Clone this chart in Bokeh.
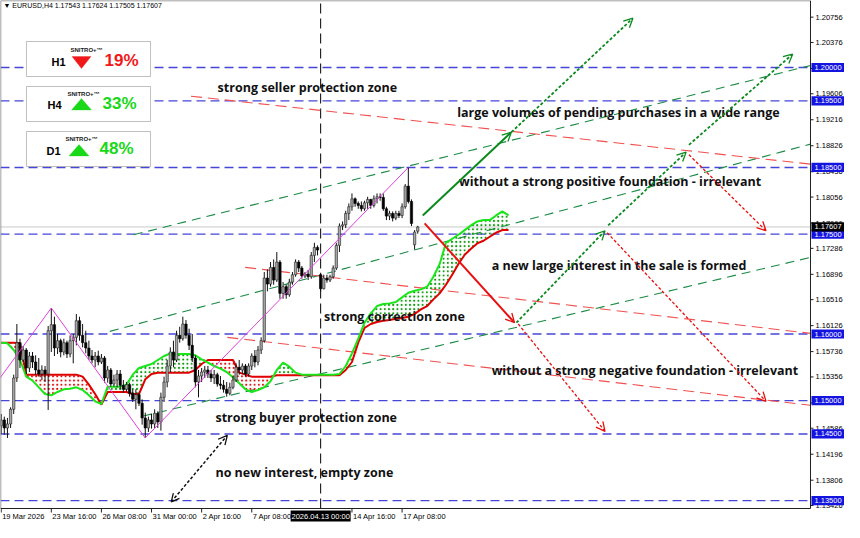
import numpy as np
from bokeh.plotting import figure
from bokeh.models import (Range1d, Label, BoxAnnotation, PolyAnnotation, Arrow, OpenHead)
from bokeh.core.properties import value
from bokeh.embed import file_html
from bokeh.resources import INLINE

# ---------------- data (EURUSD H4, bar index 0 = 19 Mar 2026 00:00) ----------------
header_text = "\u25BC EURUSD,H4  1.17543 1.17624 1.17505 1.17607"

bar_open = [1.1462, 1.1471, 1.1459, 1.1465, 1.1487, 1.1534, 1.1587, 1.1561, 1.1576, 1.1549,
            1.1567, 1.1558, 1.1546, 1.1540, 1.1546, 1.1540, 1.1605, 1.1614, 1.1579, 1.1590,
            1.1573, 1.1587, 1.1570, 1.1590, 1.1595, 1.1620, 1.1598, 1.1587, 1.1579, 1.1567,
            1.1561, 1.1567, 1.1558, 1.1564, 1.1534, 1.1546, 1.1525, 1.1531, 1.1540, 1.1523,
            1.1517, 1.1524, 1.1511, 1.1502, 1.1509, 1.1496, 1.1474, 1.1459, 1.1471, 1.1465,
            1.1481, 1.1468, 1.1505, 1.1528, 1.1552, 1.1573, 1.1561, 1.1598, 1.1593, 1.1615,
            1.1598, 1.1583, 1.1564, 1.1528, 1.1537, 1.1543, 1.1546, 1.1540, 1.1534, 1.1539,
            1.1525, 1.1523, 1.1517, 1.1511, 1.1520, 1.1531, 1.1550, 1.1546, 1.1552, 1.1540,
            1.1552, 1.1567, 1.1558, 1.1576, 1.1590, 1.1684, 1.1675, 1.1700, 1.1681, 1.1708,
            1.1661, 1.1671, 1.1659, 1.1678, 1.1689, 1.1708, 1.1699, 1.1687, 1.1690, 1.1686,
            1.1718, 1.1730, 1.1689, 1.1668, 1.1684, 1.1681, 1.1686, 1.1699, 1.1733, 1.1762,
            1.1764, 1.1781, 1.1791, 1.1803, 1.1796, 1.1793, 1.1788, 1.1797, 1.1802, 1.1793,
            1.1803, 1.1806, 1.1805, 1.1788, 1.1777, 1.1781, 1.1774, 1.1781, 1.1778, 1.1791,
            1.1822, 1.1799, 1.1734, 1.17543]
bar_high = [1.1480, 1.1476, 1.1474, 1.1490, 1.1539, 1.1615, 1.1593, 1.1582, 1.1579, 1.1573,
            1.1573, 1.1568, 1.1564, 1.1553, 1.1552, 1.1612, 1.1639, 1.1626, 1.1600, 1.1593,
            1.1593, 1.1590, 1.1598, 1.1600, 1.1630, 1.1626, 1.1615, 1.1605, 1.1590, 1.1576,
            1.1573, 1.1575, 1.1570, 1.1567, 1.1552, 1.1549, 1.1539, 1.1546, 1.1546, 1.1531,
            1.1528, 1.1527, 1.1517, 1.1517, 1.1512, 1.1502, 1.1482, 1.1476, 1.1480, 1.1487,
            1.1484, 1.1512, 1.1536, 1.1561, 1.1580, 1.1590, 1.1605, 1.1611, 1.1626, 1.1621,
            1.1608, 1.1600, 1.1568, 1.1546, 1.1549, 1.1552, 1.1552, 1.1546, 1.1546, 1.1542,
            1.1537, 1.1531, 1.1528, 1.1527, 1.1537, 1.1556, 1.1561, 1.1556, 1.1555, 1.1556,
            1.1571, 1.1576, 1.1582, 1.1595, 1.1693, 1.1697, 1.1708, 1.1712, 1.1723, 1.1711,
            1.1678, 1.1674, 1.1683, 1.1693, 1.1712, 1.1711, 1.1702, 1.1693, 1.1696, 1.1723,
            1.1737, 1.1733, 1.1692, 1.1689, 1.1689, 1.1689, 1.1703, 1.1737, 1.1766, 1.1769,
            1.1785, 1.1796, 1.1811, 1.1805, 1.1799, 1.1799, 1.1800, 1.1806, 1.1803, 1.1808,
            1.1811, 1.1811, 1.1811, 1.1791, 1.1785, 1.1784, 1.1785, 1.1785, 1.1796, 1.1825,
            1.1850, 1.1802, 1.1756, 1.17624]
bar_low = [1.1450, 1.1449, 1.1444, 1.1459, 1.1480, 1.1528, 1.1549, 1.1558, 1.1540, 1.1543,
           1.1549, 1.1539, 1.1536, 1.1531, 1.1528, 1.1486, 1.1573, 1.1567, 1.1570, 1.1565,
           1.1568, 1.1564, 1.1565, 1.1556, 1.1583, 1.1590, 1.1580, 1.1571, 1.1561, 1.1556,
           1.1550, 1.1553, 1.1555, 1.1527, 1.1527, 1.1521, 1.1521, 1.1520, 1.1517, 1.1512,
           1.1514, 1.1506, 1.1498, 1.1487, 1.1492, 1.1464, 1.1444, 1.1453, 1.1458, 1.1459,
           1.1459, 1.1455, 1.1498, 1.1520, 1.1543, 1.1550, 1.1558, 1.1587, 1.1590, 1.1593,
           1.1576, 1.1558, 1.1520, 1.1505, 1.1528, 1.1534, 1.1534, 1.1528, 1.1525, 1.1521,
           1.1517, 1.1512, 1.1506, 1.1508, 1.1517, 1.1528, 1.1539, 1.1540, 1.1536, 1.1536,
           1.1546, 1.1550, 1.1553, 1.1570, 1.1587, 1.1664, 1.1671, 1.1674, 1.1678, 1.1653,
           1.1653, 1.1653, 1.1656, 1.1674, 1.1686, 1.1693, 1.1683, 1.1684, 1.1681, 1.1683,
           1.1708, 1.1718, 1.1664, 1.1667, 1.1677, 1.1678, 1.1683, 1.1696, 1.1723, 1.1756,
           1.1759, 1.1771, 1.1785, 1.1791, 1.1788, 1.1784, 1.1785, 1.1788, 1.1788, 1.1790,
           1.1796, 1.1800, 1.1785, 1.1771, 1.1771, 1.1769, 1.1771, 1.1774, 1.1774, 1.1788,
           1.1796, 1.1762, 1.1727, 1.17505]
bar_close = [1.1471, 1.1459, 1.1465, 1.1487, 1.1534, 1.1587, 1.1561, 1.1576, 1.1549, 1.1567,
             1.1558, 1.1546, 1.1540, 1.1546, 1.1540, 1.1605, 1.1614, 1.1579, 1.1590, 1.1573,
             1.1587, 1.1570, 1.1590, 1.1595, 1.1620, 1.1598, 1.1587, 1.1579, 1.1567, 1.1561,
             1.1567, 1.1558, 1.1564, 1.1534, 1.1546, 1.1525, 1.1531, 1.1540, 1.1523, 1.1517,
             1.1524, 1.1511, 1.1502, 1.1509, 1.1496, 1.1474, 1.1459, 1.1471, 1.1465, 1.1481,
             1.1468, 1.1505, 1.1528, 1.1552, 1.1573, 1.1561, 1.1598, 1.1593, 1.1615, 1.1598,
             1.1583, 1.1564, 1.1528, 1.1537, 1.1543, 1.1546, 1.1540, 1.1534, 1.1539, 1.1525,
             1.1523, 1.1517, 1.1511, 1.1520, 1.1531, 1.1550, 1.1546, 1.1552, 1.1540, 1.1552,
             1.1567, 1.1558, 1.1576, 1.1590, 1.1684, 1.1675, 1.1700, 1.1681, 1.1708, 1.1661,
             1.1671, 1.1659, 1.1678, 1.1689, 1.1708, 1.1699, 1.1687, 1.1690, 1.1686, 1.1718,
             1.1730, 1.1726, 1.1668, 1.1684, 1.1681, 1.1686, 1.1699, 1.1733, 1.1762, 1.1764,
             1.1781, 1.1791, 1.1803, 1.1796, 1.1793, 1.1788, 1.1797, 1.1802, 1.1793, 1.1803,
             1.1806, 1.1805, 1.1788, 1.1777, 1.1781, 1.1774, 1.1781, 1.1778, 1.1791, 1.1822,
             1.1799, 1.1766, 1.1753, 1.17607]

# Ichimoku cloud spans, read at every second bar (0, 2, ..., 162)
cloud_bars = list(range(0, 163, 2))
span_a = [1.1587, 1.1586, 1.1576, 1.1561, 1.1536, 1.1530, 1.1520, 1.1510, 1.1508, 1.1513,
          1.1517, 1.1518, 1.1520, 1.1516, 1.1508, 1.1499, 1.1495, 1.1521, 1.1521, 1.1521,
          1.1524, 1.1539, 1.1549, 1.1552, 1.1555, 1.1561, 1.1567, 1.1571, 1.1570, 1.1570,
          1.1570, 1.1568, 1.1562, 1.1557, 1.1552, 1.1548, 1.1543, 1.1535, 1.1526, 1.1517,
          1.1513, 1.1516, 1.1520, 1.1529, 1.1546, 1.1557, 1.1551, 1.1542, 1.1539, 1.1539,
          1.1539, 1.1539, 1.1539, 1.1539, 1.1540, 1.1552, 1.1571, 1.1593, 1.1617, 1.1631,
          1.1642, 1.1645, 1.1646, 1.1648, 1.1655, 1.1662, 1.1665, 1.1667, 1.1671, 1.1686,
          1.1705, 1.1737, 1.1743, 1.1749, 1.1756, 1.1763, 1.1769, 1.1771, 1.1771, 1.1778,
          1.1784, 1.1778]
span_b = [1.1587, 1.1587, 1.1587, 1.1586, 1.1539, 1.1539, 1.1539, 1.1539, 1.1539, 1.1539,
          1.1539, 1.1539, 1.1539, 1.1536, 1.1524, 1.1510, 1.1494, 1.1513, 1.1513, 1.1513,
          1.1513, 1.1510, 1.1510, 1.1532, 1.1540, 1.1542, 1.1542, 1.1542, 1.1542, 1.1542,
          1.1542, 1.1546, 1.1555, 1.1561, 1.1561, 1.1561, 1.1561, 1.1561, 1.1542, 1.1539,
          1.1536, 1.1536, 1.1536, 1.1536, 1.1538, 1.1538, 1.1538, 1.1538, 1.1538, 1.1538,
          1.1538, 1.1538, 1.1538, 1.1538, 1.1538, 1.1546, 1.1558, 1.1587, 1.1609, 1.1615,
          1.1618, 1.1620, 1.1621, 1.1623, 1.1624, 1.1626, 1.1630, 1.1637, 1.1642, 1.1652,
          1.1661, 1.1674, 1.1689, 1.1705, 1.1719, 1.1728, 1.1736, 1.1740, 1.1746, 1.1752,
          1.1756, 1.1756]

# ZigZag pivots (bar, price)
zigzag_bar = [-1, 16, 46, 130]
zigzag_price = [1.1530, 1.1639, 1.1444, 1.1850]

# horizontal levels and current price
level_prices = [1.2000, 1.1950, 1.1850, 1.1750, 1.1600, 1.1500, 1.1450, 1.1350]
last_price = 1.17607
crosshair_bar = 102
crosshair_label = "2026.04.13 00:00"

# trend lines: start (bar, price) -> end (bar, price)
green_tl = dict(x0=[42.3, 34.7, 45.4], y0=[1.1749, 1.1604, 1.1477],
                x1=[258.4, 258.4, 258.4], y1=[1.2003, 1.1885, 1.1715])
red_tl = dict(x0=[60.6, 77.9, 72.2], y0=[1.1957, 1.1700, 1.1595],
              x1=[258.4, 258.4, 258.4], y1=[1.1855, 1.1601, 1.1493])

# arrows: (bar0, price0, bar1, price1)
arrows_green_solid = [(134.6, 1.1778, 162.9, 1.1903)]
arrows_red_solid = [(135.2, 1.1766, 163.9, 1.1617)]
arrows_green_dot = [(162.9, 1.1903, 201.7, 1.2074), (164.5, 1.1617, 192.8, 1.1755),
                    (193.8, 1.1763, 218.7, 1.1873), (219.6, 1.1884, 252.7, 1.2020)]
arrows_red_dot = [(165.1, 1.1615, 192.8, 1.1454), (193.5, 1.1752, 244.2, 1.1499),
                  (219.6, 1.1869, 244.2, 1.1755)]
arrow_black_both = [(54.3, 1.1348, 72.2, 1.1448)]

# chart comments
note_text = ["strong seller protection zone",
             "large volumes of pending purchases in a wide range",
             "without a strong positive foundation - irrelevant",
             "a new large interest in the sale is formed",
             "strong correction zone",
             "without a strong negative foundation - irrelevant",
             "strong buyer protection zone",
             "no new interest, empty zone"]
note_bar = [69.1, 145.6, 146.2, 156.6, 103.1, 156.6, 68.4, 68.4]
note_price = [1.1970, 1.1933, 1.1829, 1.1703, 1.1626, 1.1545, 1.1474, 1.1392]

# axis ticks
y_ticks = [1.20756, 1.20376, 1.19986, 1.19606, 1.19216, 1.18826, 1.18436, 1.18056, 1.17666,
           1.17286, 1.16896, 1.16516, 1.16126, 1.15736, 1.15356, 1.14966, 1.14586, 1.14196,
           1.13806, 1.13426]
x_tick_bars = [0, 16, 32, 48, 64, 80, 112, 128]
x_tick_labels = ["19 Mar 2026", "23 Mar 16:00", "26 Mar 08:00", "31 Mar 00:00",
                 "2 Apr 16:00", "7 Apr 08:00", "14 Apr 16:00", "17 Apr 08:00"]

# indicator panel
panel_tf = ["H1", "H4", "D1"]
panel_pct = ["19%", "33%", "48%"]
panel_dir = ["down", "up", "up"]

# ---------------- figure geometry ----------------
W, H = 844, 522
X_LEFT, X_AX, X_RIGHT = -0.22, 258.4, 269.26      # chart area ends at X_AX, price scale beyond
Y_TOP, Y_BOT, Y_MIN = 1.21006, 1.13381, 1.13171   # chart area above Y_BOT, time scale below
PXX = (X_RIGHT - X_LEFT) / W     # bars per pixel
PXY = (Y_TOP - Y_MIN) / H        # price per pixel

p = figure(width=W, height=H, x_range=Range1d(X_LEFT, X_RIGHT), y_range=Range1d(Y_MIN, Y_TOP),
           output_backend="svg", toolbar_location=None, x_axis_location=None,
           y_axis_location=None, min_border=0)
p.xgrid.visible = False
p.ygrid.visible = False
p.outline_line_color = None
p.background_fill_color = "white"
p.border_fill_color = "white"

AXF = value("Liberation Sans")
n_lv = len(level_prices)

# level lines, current price, crosshair
p.segment([X_LEFT] * n_lv, level_prices, [X_AX] * n_lv, level_prices,
          line_color="#4646d8", line_width=1.4, line_dash="9 5")
p.segment([X_LEFT], [last_price], [X_AX], [last_price], line_color="#c8c8c8", line_width=1)
p.segment([crosshair_bar], [Y_BOT], [crosshair_bar], [Y_TOP], line_color="black",
          line_width=1, line_dash="10 5")

# trend lines
p.segment(green_tl["x0"], green_tl["y0"], green_tl["x1"], green_tl["y1"],
          line_color="#1b8a45", line_width=1.1, line_dash="9 6")
p.segment(red_tl["x0"], red_tl["y0"], red_tl["x1"], red_tl["y1"],
          line_color="#f05050", line_width=1.1, line_dash="11 6")

# ichimoku cloud
A = np.array(span_a)
B = np.array(span_b)
top = np.maximum(A, B)
p.varea(x=cloud_bars, y1=B, y2=top, fill_alpha=0, hatch_pattern="dot",
        hatch_color="#0f9a0f", hatch_scale=4.2, hatch_weight=1.1)
p.varea(x=cloud_bars, y1=A, y2=top, fill_alpha=0, hatch_pattern="dot",
        hatch_color="#e01010", hatch_scale=4.2, hatch_weight=1.1)
p.line(cloud_bars, span_b, line_color="#e00000", line_width=2)
p.line(cloud_bars, span_a, line_color="#19e619", line_width=2)

# candles
idx = np.arange(len(bar_open))
o = np.array(bar_open); h = np.array(bar_high); l = np.array(bar_low); c = np.array(bar_close)
up = c >= o
p.segment(idx, h, idx, l, line_color="#101010", line_width=1)
p.vbar(x=idx[up], width=0.75, bottom=o[up], top=c[up], fill_color="#a8a8a8",
       line_color="#202020", line_width=0.6)
p.vbar(x=idx[~up], width=0.75, bottom=c[~up], top=o[~up], fill_color="black",
       line_color="black", line_width=0.6)

# zigzag
p.line(zigzag_bar, zigzag_price, line_color="#e040e0", line_width=1)

# comments
p.text(x=note_bar, y=note_price, text=note_text, text_font=value("Open Sans"),
       text_font_size="12.5px", text_font_style="bold", text_color="#111111",
       text_align="left", text_baseline="middle")

# ---------------- scales (price on the right, time below) ----------------
p.quad(left=[X_AX, X_LEFT], right=[X_RIGHT, X_RIGHT], bottom=[Y_MIN, Y_MIN],
       top=[Y_TOP, Y_BOT], fill_color="white", line_color=None)
p.segment([X_LEFT, X_LEFT], [Y_BOT, Y_TOP], [X_LEFT, X_AX], [Y_TOP, Y_TOP],
          line_color="#808080", line_width=1.5)
p.segment([X_AX, X_LEFT], [Y_TOP, Y_BOT], [X_AX, X_AX], [Y_BOT, Y_BOT],
          line_color="#202020", line_width=1)

n_y = len(y_ticks)
p.segment([X_AX] * n_y, y_ticks, [X_AX + 3 * PXX] * n_y, y_ticks, line_color="#202020")
p.text(x=[X_AX + 5 * PXX] * n_y, y=y_ticks, text=[f"{t:.5f}" for t in y_ticks],
       text_font=AXF, text_font_size="7.5px", text_color="black", text_align="left",
       text_baseline="middle")

n_x = len(x_tick_bars)
p.segment(x_tick_bars, [Y_BOT] * n_x, x_tick_bars, [Y_BOT - 4 * PXY] * n_x,
          line_color="#202020")
p.text(x=[b + 1 * PXX for b in x_tick_bars], y=[Y_BOT - 3 * PXY] * n_x, text=x_tick_labels,
       text_font=AXF, text_font_size="7.5px", text_color="black", text_align="left",
       text_baseline="top")

# price tags
tag_prices = level_prices + [last_price]
tag_colors = ["#1414e0"] * n_lv + ["#000000"]
p.quad(left=[X_AX + 1 * PXX] * len(tag_prices), right=[X_AX + 34 * PXX] * len(tag_prices),
       bottom=[t - 4.6 * PXY for t in tag_prices], top=[t + 4.6 * PXY for t in tag_prices],
       fill_color=tag_colors, line_color=None)
p.text(x=[X_AX + 4 * PXX] * len(tag_prices), y=tag_prices,
       text=[f"{t:.5f}" for t in tag_prices], text_font=AXF, text_font_size="7.5px",
       text_color="white", text_align="left", text_baseline="middle")

# crosshair time tag
p.quad(left=[crosshair_bar - 30 * PXX], right=[crosshair_bar + 30 * PXX],
       top=[Y_BOT - 2 * PXY], bottom=[Y_BOT - 13 * PXY], fill_color="black", line_color=None)
p.text(x=[crosshair_bar], y=[Y_BOT - 7.5 * PXY], text=[crosshair_label], text_font=AXF,
       text_font_size="7.5px", text_color="white", text_align="center",
       text_baseline="middle")

# ---------------- arrows ----------------
def add_arrows(lst, color, width, dash, both=False):
    for (x0, y0, x1, y1) in lst:
        kw = {}
        if both:
            kw["start"] = OpenHead(size=8, line_color=color, line_width=1.3)
        p.add_layout(Arrow(end=OpenHead(size=9, line_color=color, line_width=1.3),
                           x_start=x0, y_start=y0, x_end=x1, y_end=y1,
                           line_color=color, line_width=width, line_dash=dash, **kw))

add_arrows(arrows_green_solid, "#0a8a1e", 2, "solid")
add_arrows(arrows_red_solid, "#e81010", 2, "solid")
add_arrows(arrows_green_dot, "#0a8a1e", 1.8, "3 2")
add_arrows(arrows_red_dot, "#e81010", 1.3, "3 2")
add_arrows(arrow_black_both, "#101010", 1.5, "3 2", both=True)

# ---------------- overlays (screen positions) ----------------
def sx(rx):
    return rx - 2

def sy(ry):
    return H - (ry - 2)

p.add_layout(Label(x=sx(5), y=sy(7), x_units="screen", y_units="screen", text=header_text,
                   text_font="Liberation Sans", text_font_size="7px", text_color="black",
                   text_baseline="middle"))

boxes = [(28, 43, 152, 78), (28, 88, 152, 123), (28, 133, 152, 168)]
tf_pos = [(60, 63), (56, 106), (55, 152)]
brand_pos = [(88, 51), (85, 95), (83, 140)]
tri_center = [(83, 64), (83, 106), (80.5, 152)]
pct_pos = [(123, 62), (121, 105), (118, 150)]
for i in range(3):
    bx0, by0, bx1, by1 = boxes[i]
    p.add_layout(BoxAnnotation(left=sx(bx0), right=sx(bx1), top=sy(by0), bottom=sy(by1),
                               left_units="screen", right_units="screen",
                               top_units="screen", bottom_units="screen",
                               fill_color="white", fill_alpha=1, line_color="#303030",
                               line_width=1, level="overlay"))
    col = "#f01818" if panel_dir[i] == "down" else "#18d818"
    cx, cy = tri_center[i]
    if panel_dir[i] == "down":
        xs = [cx - 9.5, cx + 9.5, cx]; ys = [cy - 6, cy - 6, cy + 6]
    else:
        xs = [cx - 10, cx + 10, cx]; ys = [cy + 5.5, cy + 5.5, cy - 6]
    p.add_layout(PolyAnnotation(xs=[sx(v) for v in xs], ys=[sy(v) for v in ys],
                                xs_units="screen", ys_units="screen", fill_color=col,
                                fill_alpha=1, line_color=col, level="overlay"))
    p.add_layout(Label(x=sx(brand_pos[i][0]), y=sy(brand_pos[i][1]), x_units="screen",
                       y_units="screen", text="SNITRO+\u2122", text_font="Liberation Sans",
                       text_font_size="6px", text_font_style="bold", text_color="#202020",
                       text_align="center", text_baseline="middle", level="overlay"))
    p.add_layout(Label(x=sx(tf_pos[i][0]), y=sy(tf_pos[i][1]), x_units="screen",
                       y_units="screen", text=panel_tf[i], text_font="Liberation Sans",
                       text_font_size="11px", text_font_style="bold", text_color="black",
                       text_align="center", text_baseline="middle", level="overlay"))
    p.add_layout(Label(x=sx(pct_pos[i][0]), y=sy(pct_pos[i][1]), x_units="screen",
                       y_units="screen", text=panel_pct[i], text_font="Liberation Sans",
                       text_font_size="17px", text_font_style="bold", text_color=col,
                       text_align="center", text_baseline="middle", level="overlay"))

open("out.html", "w").write(file_html(p, INLINE))
